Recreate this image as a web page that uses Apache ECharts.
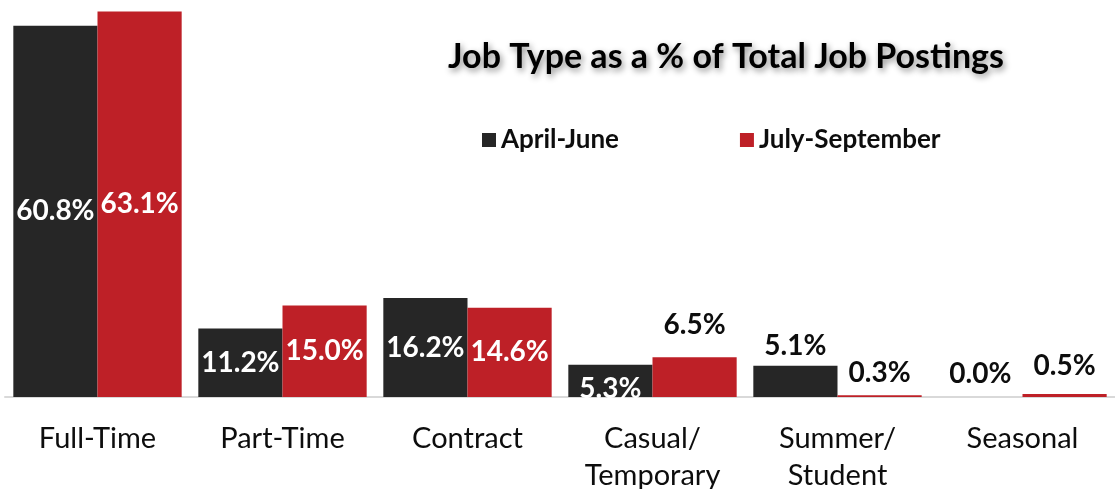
<!DOCTYPE html>
<html>
<head>
<meta charset="utf-8">
<title>Job Type as a % of Total Job Postings</title>
<script src="https://cdn.jsdelivr.net/npm/echarts@6/dist/echarts.min.js"></script>
<style>
  html, body { margin: 0; padding: 0; background: #fff; }
  #chart { width: 1115px; height: 489px; }
</style>
</head>
<body>
<div id="chart"></div>
<script>
// data
const categories = ['Full-Time', 'Part-Time', 'Contract', 'Casual/\nTemporary', 'Summer/\nStudent', 'Seasonal']
const aprilJune = [60.8, 11.2, 16.2, 5.3, 5.1, 0.0]
const julySept = [63.1, 15.0, 14.6, 6.5, 0.3, 0.5]

// which labels sit inside the bar (white) vs above it (black)
const aprInside = [true, true, true, true, false, false]
const julInside = [true, true, true, false, false, false]
// extra gap above bar for outside labels (matches hand-moved labels in the original)
const aprGap = [0, 0, 0, 0, 2, 5]
const julGap = [0, 0, 0, 14, 4, 10]

const FONT = 'Lato, "Open Sans", sans-serif'
const DARK = '#262626'
const RED = '#BE2027'

const buildData = (values, inside, gaps) => values.map((v, i) => ({
  value: v,
  label: inside[i]
    ? { position: 'inside', color: '#fff', offset: v < 8 ? [0, 8] : [0, 0] }
    : { position: 'top', color: '#0d0d0d', distance: 4 + gaps[i] }
}))

const chart = echarts.init(document.getElementById('chart'))

const barLabel = {
  show: true,
  fontFamily: FONT,
  fontWeight: 'bold',
  fontSize: 28,
  formatter: p => p.value.toFixed(1) + '%'
}

chart.setOption({
  backgroundColor: '#fff',
  animation: false,
  title: {
    text: 'Job Type as a % of Total Job Postings',
    left: 721,
    textAlign: 'center',
    top: 35,
    textStyle: {
      fontFamily: FONT,
      fontWeight: 'bold',
      fontSize: 34,
      color: '#000',
      textShadowColor: 'rgba(0,0,0,0.45)',
      textShadowBlur: 6,
      textShadowOffsetX: 2,
      textShadowOffsetY: 3
    }
  },
  legend: {
    top: 122,
    left: 477,
    icon: 'rect',
    itemWidth: 14,
    itemHeight: 14,
    itemGap: 121,
    textStyle: { fontFamily: FONT, fontWeight: 'bold', fontSize: 26, color: '#0d0d0d' },
    data: ['April-June', 'July-September']
  },
  grid: { left: 5, right: 0, top: 0, bottom: 92, containLabel: false, outerBoundsMode: 'none' },
  xAxis: {
    type: 'category',
    data: categories,
    axisLine: { lineStyle: { color: '#d9d9d9', width: 2 } },
    axisTick: { show: false },
    axisLabel: {
      interval: 0,
      margin: 23,
      fontFamily: FONT,
      fontSize: 29,
      lineHeight: 37,
      color: '#0d0d0d'
    }
  },
  yAxis: {
    type: 'value',
    min: 0,
    max: 65,
    show: false,
    splitLine: { show: false }
  },
  series: [
    {
      name: 'April-June',
      type: 'bar',
      barGap: '0%',
      barCategoryGap: '9%',
      itemStyle: { color: DARK },
      label: barLabel,
      data: buildData(aprilJune, aprInside, aprGap)
    },
    {
      name: 'July-September',
      type: 'bar',
      itemStyle: { color: RED },
      label: barLabel,
      data: buildData(julySept, julInside, julGap)
    }
  ]
})

window.addEventListener('resize', () => chart.resize())
</script>
</body>
</html>
